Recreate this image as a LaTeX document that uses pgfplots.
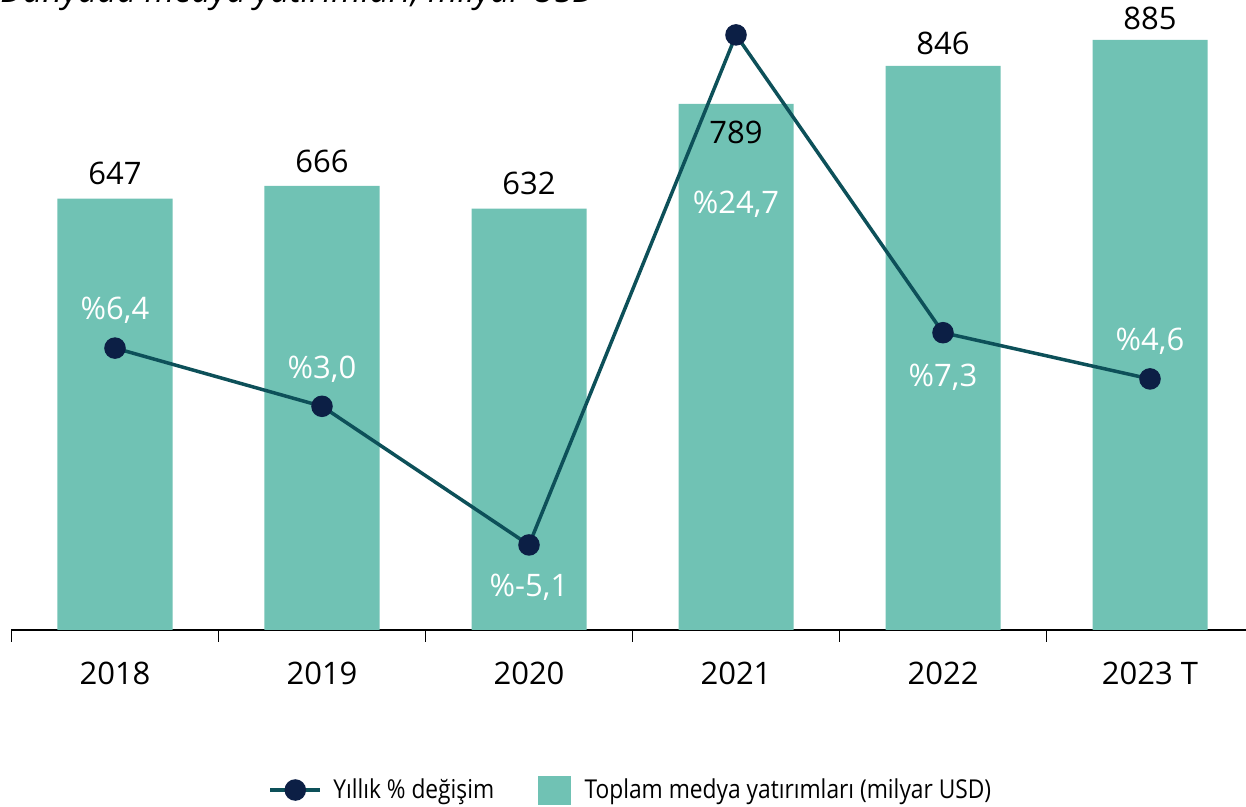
\documentclass[border=0pt]{standalone}
\usepackage{pgfplots}
\pgfplotsset{compat=1.18}
\usepackage{fontspec}
\setmainfont{Open Sans}
\newfontfamily\condf[FakeStretch=0.875]{Open Sans}
\definecolor{barcol}{HTML}{70C2B4}
\definecolor{lc}{HTML}{0D5059}
\definecolor{mk}{HTML}{0C1F45}
\newcommand{\bigf}{\fontsize{15.5}{18}\selectfont}
\begin{document}
\begin{tikzpicture}
\begin{axis}[
  scale only axis, width=621pt, height=315pt,
  xmin=-0.5, xmax=5.5, ymin=0, ymax=945,
  axis x line*=bottom, axis y line=none,
  axis line style={black, line width=0.75pt, -},
  xtick={0,1,2,3,4,5},
  xticklabels={2018,2019,2020,2021,2022,2023 T},
  major tick length=0pt,
  xticklabel style={font=\bigf, anchor=center, yshift=-21.5pt},
  extra x ticks={-0.5,0.5,1.5,2.5,3.5,4.5,5.5},
  extra x tick labels={},
  extra x tick style={major tick length=6pt, tick align=outside, tick style={black, line width=0.75pt}},
  clip=false,
]
\addplot[ybar, bar width=57.5pt, fill=barcol, draw=none] coordinates {(0,647) (1,666) (2,632) (3,789) (4,846) (5,885)};
\node[font=\bigf] at (axis cs:0,647) [yshift=12.5pt] {647};
\node[font=\bigf] at (axis cs:1,666) [yshift=12.5pt] {666};
\node[font=\bigf] at (axis cs:2,632) [yshift=12.5pt] {632};
\node[font=\bigf] at (axis cs:3,789) [yshift=-14pt] {789};
\node[font=\bigf] at (axis cs:4,846) [yshift=11.5pt] {846};
\node[font=\bigf] at (axis cs:5,885) [yshift=11pt] {885};
\end{axis}
\begin{axis}[
  scale only axis, width=621pt, height=315pt,
  xmin=-0.5, xmax=5.5, ymin=-10.07, ymax=26.74,
  axis x line=none, axis y line=none,
  clip=false,
  legend columns=2,
  legend image code/.code={\path[draw=none] (0pt,0pt) -- (29.5pt,0pt); \draw[mark repeat=2,mark phase=2,#1] plot coordinates {(0pt,0pt) (12.5pt,0pt) (25pt,0pt)};},
  legend style={draw=none, fill=none, font=\condf\fontsize{13}{15}\selectfont,
    at={(axis description cs:0.4995,-0.254)}, anchor=center,
    /tikz/every even column/.append style={column sep=20pt}},
]
\addplot[lc, line width=1.75pt, mark=*, mark size=4.5pt, mark options={fill=mk, draw=mk}]
  coordinates {(0,6.4) (1,3.0) (2,-5.1) (3,24.7) (4,7.3) (5,4.6)};
\addlegendentry{Yıllık \% değişim}
\addlegendimage{legend image code/.code={\path[draw=none] (0pt,0pt) -- (21pt,0pt); \fill[barcol] (0pt,-7pt) rectangle (16pt,7pt);}}
\addlegendentry{Toplam medya yatırımları (milyar USD)}
\node[font=\bigf, white] at (axis cs:0,6.4) [yshift=19pt] {\%6,4};
\node[font=\bigf, white] at (axis cs:1,3.0) [yshift=18.5pt] {\%3,0};
\node[font=\bigf, white] at (axis cs:2,-5.1) [yshift=-21pt] {\%-5,1};
\node[font=\bigf, white] at (axis cs:3,14.8) {\%24,7};
\node[font=\bigf, white] at (axis cs:4,7.3) [yshift=-22.5pt] {\%7,3};
\node[font=\bigf, white] at (axis cs:5,4.6) [yshift=19pt] {\%4,6};
\end{axis}
\node[anchor=base west, inner sep=0pt, font=\fontsize{17}{20}\selectfont\itshape] at (-5.75pt,313.5pt) {Dünyada medya yatırımları, milyar USD};
\pgfresetboundingbox
\path[use as bounding box] (-5.75pt,-88.5pt) rectangle (617.25pt,315pt);
\end{tikzpicture}
\end{document}
